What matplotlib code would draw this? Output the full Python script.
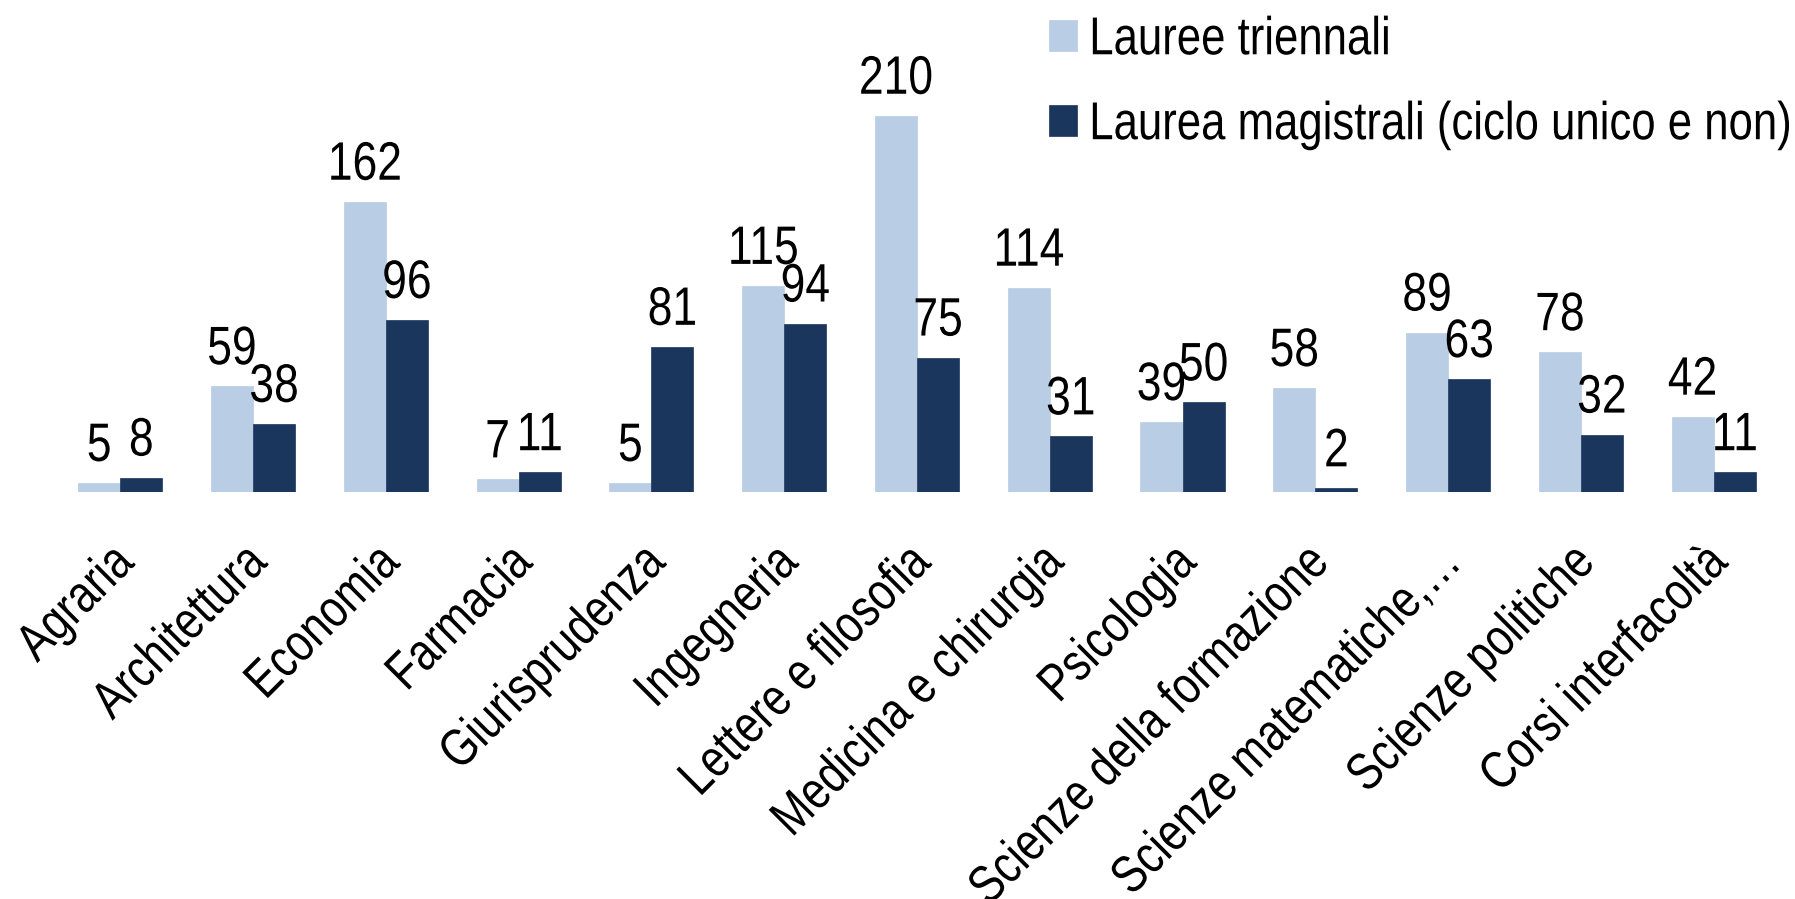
import matplotlib
matplotlib.use("Agg")
import matplotlib.pyplot as plt
import numpy as np
from matplotlib.patheffects import AbstractPathEffect
from matplotlib.transforms import Affine2D, ScaledTranslation

categories = ["Agraria", "Architettura", "Economia", "Farmacia", "Giurisprudenza",
              "Ingegneria", "Lettere e filosofia", "Medicina e chirurgia", "Psicologia",
              "Scienze della formazione", "Scienze matematiche,…", "Scienze politiche",
              "Corsi interfacoltà"]
triennali = [5, 59, 162, 7, 5, 115, 210, 114, 39, 58, 89, 78, 42]
magistrali = [8, 38, 96, 11, 81, 94, 75, 31, 50, 2, 63, 32, 11]
series_names = ["Lauree triennali", "Laurea magistrali (ciclo unico e non)"]

plt.rcParams['font.family'] = ["Liberation Sans", "DejaVu Sans"]


class Condense(AbstractPathEffect):
    """Horizontally condense glyph paths (narrow-font look)."""
    def __init__(self, s=0.82, anchor="center"):
        super().__init__()
        self.s = s
        self.anchor = anchor

    def draw_path(self, renderer, gc, tpath, affine, rgbFace=None):
        ext = tpath.get_extents()
        if self.anchor == "left":
            a = ext.x0
        elif self.anchor == "right":
            a = ext.x1
        else:
            a = 0.5 * (ext.x0 + ext.x1)
        t = Affine2D().translate(-a, 0).scale(self.s, 1).translate(a, 0)
        renderer.draw_path(gc, tpath, t + affine, rgbFace)


light = "#B9CDE5"
dark = "#1B365D"
S = 0.82

fig = plt.figure(figsize=(17.95, 8.99), dpi=100)
ax = fig.add_axes([0.030, 0.4527, 0.9617, 0.536])

x = np.arange(len(categories))
w = 0.317
b1 = ax.bar(x - w/2, triennali, w, color=light, edgecolor=light, linewidth=0.5, label=series_names[0])
b2 = ax.bar(x + w/2, magistrali, w, color=dark, edgecolor=dark, linewidth=0.5, label=series_names[1])

for bars, vals in ((b1, triennali), (b2, magistrali)):
    for r, v in zip(bars, vals):
        ax.annotate(str(v), (r.get_x() + r.get_width()/2, r.get_height()),
                    xytext=(0, 8), textcoords="offset points",
                    ha="center", va="bottom", fontsize=39,
                    path_effects=[Condense(S, "center")])

ax.set_xlim(-0.5, len(categories) - 0.5)
ax.set_ylim(0, 269)
ax.set_yticks([])
ax.set_xticks([])
for s in ax.spines.values():
    s.set_visible(False)

lab_tr = ax.get_xaxis_transform() + ScaledTranslation(-0.12, -0.45, fig.dpi_scale_trans)
for xi, lab in zip(x, categories):
    ax.text(xi, 0, lab, transform=lab_tr, rotation=45, rotation_mode="anchor",
            ha="right", va="top", fontsize=38,
            path_effects=[Condense(S, "right")])

leg = fig.legend(loc="upper left", bbox_to_anchor=(0.5844, 0.983), frameon=False,
                 fontsize=38.4, handlelength=0.52, handleheight=0.52, handletextpad=0.22,
                 labelspacing=0.655, borderaxespad=0, borderpad=0)
for t in leg.get_texts():
    t.set_path_effects([Condense(S, "left")])

fig.savefig("out.png", dpi=100)
